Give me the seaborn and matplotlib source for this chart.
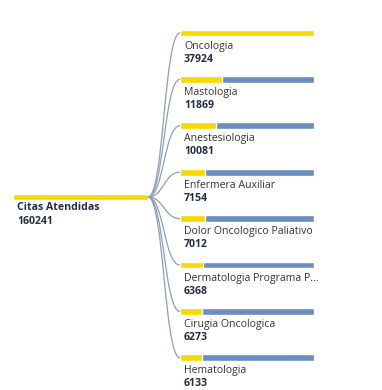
import numpy as np
import pandas as pd
import matplotlib
matplotlib.use("Agg")
import matplotlib.pyplot as plt
import seaborn as sns
from matplotlib.path import Path
from matplotlib.patches import PathPatch

# Datos del árbol de descomposición
root_label = "Citas Atendidas"
root_value = 160241
categorias = ["Oncologia", "Mastologia", "Anestesiologia", "Enfermera Auxiliar",
              "Dolor Oncologico Paliativo", "Dermatologia Programa P...",
              "Cirugia Oncologica", "Hematologia"]
valores = [37924, 11869, 10081, 7154, 7012, 6368, 6273, 6133]

YELLOW = "#F7D900"
BLUE = "#6C8DBF"
LINK = "#8F9DB8"
TEXT = "#252B48"

W, H = 382, 390
sns.set_theme(style="white")
plt.rcParams["font.family"] = ["Open Sans", "DejaVu Sans"]
FS = 7.6

fig = plt.figure(figsize=(W / 100, H / 100), dpi=100)
fig.patch.set_facecolor("white")

# capa base en coordenadas de píxel
base = fig.add_axes([0, 0, 1, 1])
base.set_xlim(0, W)
base.set_ylim(H, 0)
base.axis("off")

# nivel raíz
root_x0, root_x1, root_y = 13, 148, 197
base.barh([root_y], [root_x1 - root_x0], left=root_x0, height=6.5, color=YELLOW)
base.text(root_x0 + 4, root_y + 11, root_label, fontsize=FS, fontweight="bold",
          color=TEXT, va="center")
base.text(root_x0 + 4, root_y + 24, str(root_value), fontsize=FS, fontweight="bold",
          color=TEXT, va="center")

# nivel hijos
child_x0, child_x1 = 180, 314
top_y, step = 33, 46.4
ys = top_y + step * np.arange(len(categorias))

# enlaces curvos
for y in ys:
    mx = (root_x1 + child_x0) / 2
    verts = [(root_x1, root_y), (mx, root_y), (mx, y), (child_x0, y)]
    codes = [Path.MOVETO, Path.CURVE4, Path.CURVE4, Path.CURVE4]
    base.add_patch(PathPatch(Path(verts, codes), fill=False, edgecolor=LINK, lw=0.9))

# barras de los hijos con seaborn
df = pd.DataFrame({"categoria": categorias, "valor": valores})
df["maximo"] = df["valor"].max()
y_lo = top_y - step / 2
y_hi = top_y + step * (len(categorias) - 0.5)
bx = fig.add_axes([child_x0 / W, 1 - y_hi / H, (child_x1 - child_x0) / W, (y_hi - y_lo) / H])
bx.patch.set_alpha(0)
sns.barplot(data=df, x="maximo", y="categoria", orient="h", color=BLUE,
            width=0.15, saturation=1, ax=bx)
sns.barplot(data=df, x="valor", y="categoria", orient="h", color=YELLOW,
            width=0.15, saturation=1, ax=bx)
bx.set_xlim(0, df["maximo"].iloc[0])
bx.set_ylim(len(categorias) - 0.5, -0.5)
bx.axis("off")

for cat, val, y in zip(categorias, valores, ys):
    base.text(child_x0 + 4, y + 13, cat, fontsize=FS, color="#333333", va="center")
    base.text(child_x0 + 4, y + 26, str(val), fontsize=FS, fontweight="bold",
              color=TEXT, va="center")

fig.savefig("out.png", dpi=100)
